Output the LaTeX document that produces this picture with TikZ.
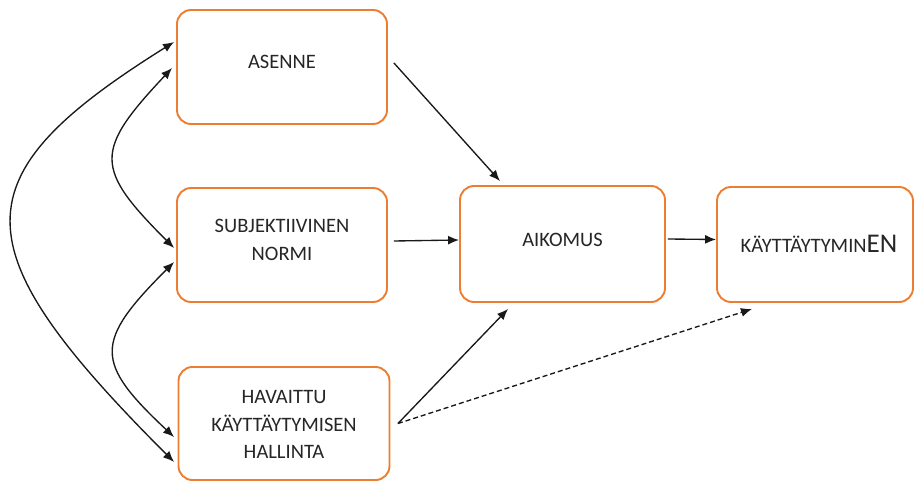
\documentclass[tikz,border=0pt]{standalone}
\usepackage{fontspec}
\setmainfont{Carlito}
\usetikzlibrary{arrows.meta}
\definecolor{boxorange}{RGB}{237,125,49}
\definecolor{arrowgray}{RGB}{25,25,25}
\tikzset{
  box/.style={draw=boxorange, line width=1.9pt, rounded corners=14pt, fill=white},
  txt/.style={font=\fontsize{20.5}{27.5}\selectfont, text=black!85, align=center},
  conn/.style={draw=arrowgray, line width=1.35pt, -{Latex[length=11pt,width=9pt]}},
  biconn/.style={draw=arrowgray, line width=1.35pt, {Latex[length=11pt,width=9pt]}-{Latex[length=11pt,width=9pt]}},
  dconn/.style={conn, dash pattern=on 5pt off 3pt}
}
\begin{document}
\begin{tikzpicture}[x=1pt,y=-1pt]
\useasboundingbox (0,0) rectangle (915,481);
\node[box, minimum width=210pt, minimum height=114pt,
  label={[txt, yshift=5pt]center:ASENNE}] (asenne) at (282,67) {};
\node[box, minimum width=210pt, minimum height=114pt,
  label={[txt, yshift=5pt]center:SUBJEKTIIVINEN\\NORMI}] (subj) at (282,245) {};
\node[box, minimum width=211pt, minimum height=113pt,
  label={[txt, yshift=-1pt]center:HAVAITTU\\KÄYTTÄYTYMISEN\\HALLINTA}] (hav) at (284,423.5) {};
\node[box, minimum width=205pt, minimum height=116pt,
  label={[txt, yshift=4pt]center:AIKOMUS}] (aikomus) at (562.5,244) {};
\node[box, minimum width=196pt, minimum height=115pt,
  label={[txt, yshift=1pt, xshift=4pt]center:KÄYTTÄYTYMIN{\fontsize{27}{30}\selectfont EN}}] (kaytt) at (815,244.5) {};

\draw[conn] ([xshift=6pt,yshift=4pt]asenne.east) -- ([xshift=-62.5pt,yshift=4pt]aikomus.north);
\draw[conn] ([xshift=6pt,yshift=4pt]subj.east) -- ([yshift=4pt]aikomus.west);
\draw[conn] ([xshift=7.5pt]hav.east) -- ([xshift=-54.5pt,yshift=-6pt]aikomus.south);
\draw[dconn] ([xshift=7.5pt]hav.east) -- ([xshift=-63pt,yshift=-6pt]kaytt.south);
\draw[conn] ([xshift=2pt,yshift=5pt]aikomus.east) -- ([yshift=5pt]kaytt.west);

\draw[biconn] ([xshift=-2pt,yshift=25pt]asenne.west) .. controls +(-216,135) and +(-216,-216) .. ([xshift=-3.5pt,yshift=-38.5pt]hav.west);
\draw[biconn] ([xshift=-4pt,yshift=-1pt]asenne.west) .. controls +(-78,83) and +(-80,-80) .. ([xshift=-2pt,yshift=-3pt]subj.west);
\draw[biconn] ([xshift=-2pt,yshift=-17pt]subj.west) .. controls +(-80,80) and +(-80,-75) .. ([xshift=-3.5pt,yshift=-13.5pt]hav.west);
\end{tikzpicture}
\end{document}
